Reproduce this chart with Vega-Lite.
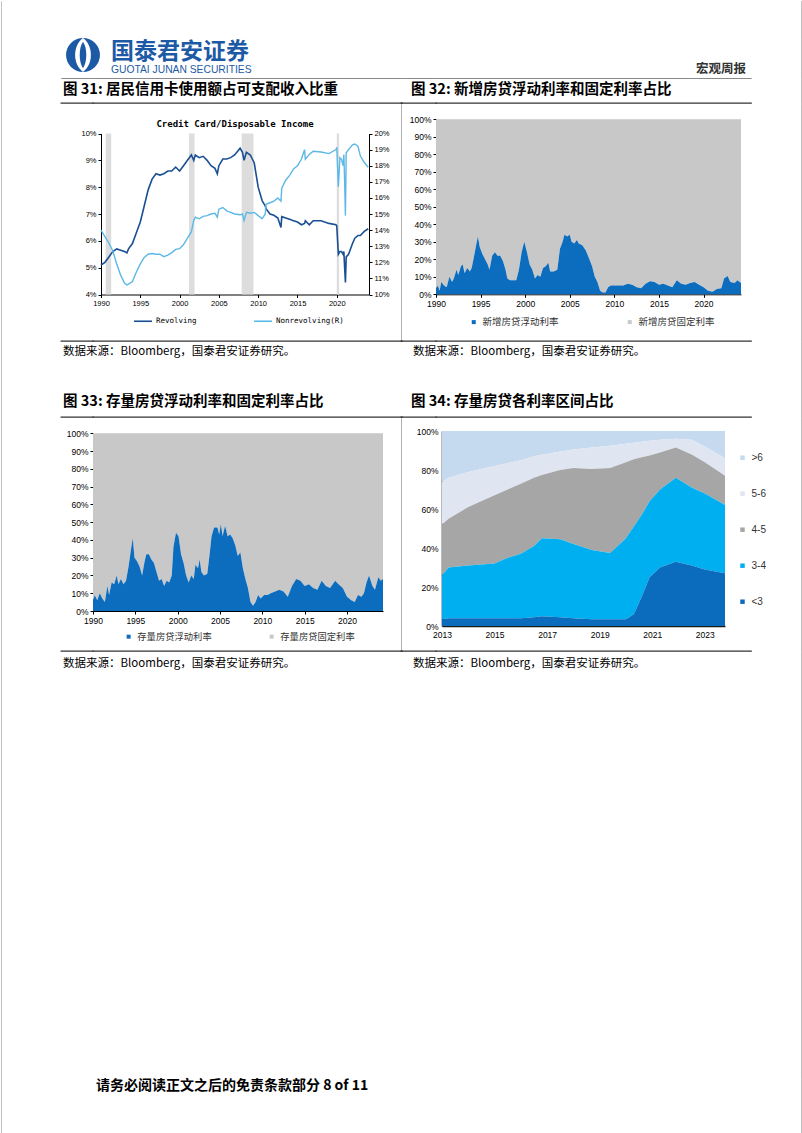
{
"$schema": "https://vega.github.io/schema/vega-lite/v6.json",
"padding": {"left": 0, "top": 0, "right": 0, "bottom": 0},
"background": "white",
"config": {
  "view": {"stroke": null},
  "font": "Liberation Sans",
  "axis": {"grid": false, "domainColor": "#000000", "tickColor": "#000000", "labelColor": "#000000", "labelFont": "Liberation Sans", "labelFontSize": 8.5, "tickSize": 3, "labelPadding": 2, "labelFlush": false, "labelOverlap": false},
  "legend": {"padding": 0},
  "title": {"font": "Noto Sans CJK SC", "color": "#000000"}
},
"datasets": {
  "e": [],
  "logo": [{"k": 1}],
  "rec": [{"s": 1990.6, "e": 1991.3}, {"s": 2001.2, "e": 2001.9}, {"s": 2007.9, "e": 2009.4}, {"s": 2020.0, "e": 2020.3}],
  "cc": [
    {"t":1990.0,"rev":5.10,"non":14.0},{"t":1990.5,"rev":5.20,"non":13.6},{"t":1991.0,"rev":5.40,"non":13.2},{"t":1991.5,"rev":5.60,"non":12.7},
    {"t":1992.0,"rev":5.70,"non":11.9},{"t":1992.5,"rev":5.65,"non":11.2},{"t":1993.0,"rev":5.60,"non":10.7},{"t":1993.3,"rev":5.55,"non":10.6},
    {"t":1993.5,"rev":5.70,"non":10.65},{"t":1994.0,"rev":5.90,"non":10.8},{"t":1994.5,"rev":6.30,"non":11.4},{"t":1995.0,"rev":6.70,"non":11.9},
    {"t":1995.5,"rev":7.30,"non":12.3},{"t":1996.0,"rev":7.90,"non":12.5},{"t":1996.5,"rev":8.30,"non":12.55},{"t":1997.0,"rev":8.50,"non":12.5},
    {"t":1997.5,"rev":8.45,"non":12.5},{"t":1998.0,"rev":8.50,"non":12.35},{"t":1998.5,"rev":8.60,"non":12.45},{"t":1999.0,"rev":8.60,"non":12.6},
    {"t":1999.5,"rev":8.75,"non":12.8},{"t":2000.0,"rev":8.60,"non":12.85},{"t":2000.5,"rev":8.80,"non":13.1},{"t":2001.0,"rev":9.00,"non":13.5},
    {"t":2001.5,"rev":9.20,"non":13.9},{"t":2001.8,"rev":9.00,"non":14.6},{"t":2002.0,"rev":9.20,"non":14.8},{"t":2002.5,"rev":9.10,"non":14.7},
    {"t":2003.0,"rev":9.15,"non":14.85},{"t":2003.5,"rev":9.00,"non":14.9},{"t":2004.0,"rev":8.80,"non":15.0},{"t":2004.5,"rev":8.70,"non":15.05},
    {"t":2004.8,"rev":8.50,"non":14.8},{"t":2005.0,"rev":8.80,"non":15.3},{"t":2005.5,"rev":9.05,"non":15.4},{"t":2006.0,"rev":9.05,"non":15.2},
    {"t":2006.5,"rev":9.10,"non":15.1},{"t":2007.0,"rev":9.20,"non":15.0},{"t":2007.7,"rev":9.45,"non":14.95},{"t":2008.0,"rev":9.30,"non":15.0},
    {"t":2008.2,"rev":9.00,"non":14.6},{"t":2008.5,"rev":9.30,"non":15.1},{"t":2009.0,"rev":9.20,"non":15.05},{"t":2009.5,"rev":8.90,"non":15.1},
    {"t":2010.0,"rev":8.00,"non":14.9},{"t":2010.5,"rev":7.50,"non":14.7},{"t":2010.9,"rev":7.30,"non":15.0},{"t":2011.0,"rev":7.20,"non":15.6},
    {"t":2011.5,"rev":7.00,"non":15.7},{"t":2012.0,"rev":6.95,"non":15.8},{"t":2012.5,"rev":6.85,"non":16.0},{"t":2012.9,"rev":6.50,"non":15.8},
    {"t":2013.0,"rev":6.90,"non":16.6},{"t":2013.5,"rev":6.85,"non":17.1},{"t":2014.0,"rev":6.80,"non":17.4},{"t":2014.5,"rev":6.75,"non":17.8},
    {"t":2015.0,"rev":6.70,"non":18.0},{"t":2015.5,"rev":6.60,"non":18.4},{"t":2015.9,"rev":6.65,"non":19.0},{"t":2016.0,"rev":6.75,"non":18.4},
    {"t":2016.5,"rev":6.60,"non":18.7},{"t":2017.0,"rev":6.75,"non":18.9},{"t":2018.0,"rev":6.75,"non":18.85},{"t":2019.0,"rev":6.65,"non":18.75},
    {"t":2019.9,"rev":6.60,"non":19.0},{"t":2020.0,"rev":6.55,"non":19.15},{"t":2020.2,"rev":5.50,"non":16.7},{"t":2020.4,"rev":5.60,"non":18.5},
    {"t":2020.6,"rev":5.60,"non":18.4},{"t":2020.8,"rev":5.50,"non":18.0},{"t":2020.9,"rev":5.60,"non":18.7},{"t":2021.0,"rev":5.00,"non":17.0},
    {"t":2021.1,"rev":4.45,"non":14.9},{"t":2021.2,"rev":5.40,"non":18.8},{"t":2021.5,"rev":5.50,"non":19.0},{"t":2022.0,"rev":5.90,"non":19.3},
    {"t":2022.3,"rev":6.10,"non":19.35},{"t":2022.7,"rev":6.20,"non":19.2},{"t":2023.0,"rev":6.20,"non":18.6},{"t":2023.5,"rev":6.35,"non":18.2},
    {"t":2024.0,"rev":6.45,"non":17.9}
  ],
  "nf": [
    {"t":1990.0,"f":3},{"t":1990.2,"f":5},{"t":1990.4,"f":2},{"t":1990.6,"f":7},{"t":1990.9,"f":5},{"t":1991.2,"f":4},{"t":1991.5,"f":10},{"t":1991.8,"f":7},
    {"t":1992.0,"f":9},{"t":1992.3,"f":14},{"t":1992.5,"f":11},{"t":1992.8,"f":16},{"t":1993.0,"f":17},{"t":1993.2,"f":12},{"t":1993.5,"f":15},{"t":1993.8,"f":13},
    {"t":1994.0,"f":15},{"t":1994.2,"f":20},{"t":1994.5,"f":28},{"t":1994.7,"f":33},{"t":1994.9,"f":27},{"t":1995.2,"f":23},{"t":1995.5,"f":20},{"t":1995.8,"f":17},
    {"t":1996.0,"f":14},{"t":1996.3,"f":22},{"t":1996.6,"f":24},{"t":1996.9,"f":22},{"t":1997.2,"f":22},{"t":1997.5,"f":19},{"t":1997.8,"f":14},{"t":1998.0,"f":9},
    {"t":1998.3,"f":8},{"t":1998.6,"f":8},{"t":1999.0,"f":8},{"t":1999.3,"f":14},{"t":1999.6,"f":24},{"t":1999.9,"f":30},{"t":2000.2,"f":24},{"t":2000.5,"f":17},
    {"t":2000.8,"f":14},{"t":2001.1,"f":9},{"t":2001.4,"f":11},{"t":2001.7,"f":10},{"t":2002.0,"f":15},{"t":2002.3,"f":16},{"t":2002.6,"f":18},{"t":2002.8,"f":13},
    {"t":2003.2,"f":13},{"t":2003.6,"f":14},{"t":2003.9,"f":26},{"t":2004.2,"f":30},{"t":2004.4,"f":34},{"t":2004.7,"f":33},{"t":2005.0,"f":34},{"t":2005.2,"f":30},
    {"t":2005.5,"f":29},{"t":2005.8,"f":31},{"t":2006.0,"f":29},{"t":2006.4,"f":28},{"t":2006.8,"f":25},{"t":2007.2,"f":20},{"t":2007.5,"f":16},{"t":2007.8,"f":10},
    {"t":2008.1,"f":7},{"t":2008.4,"f":2},{"t":2008.7,"f":1},{"t":2009.0,"f":1},{"t":2009.3,"f":4},{"t":2009.6,"f":5},{"t":2010.0,"f":5},{"t":2010.5,"f":5},
    {"t":2011.0,"f":5},{"t":2011.5,"f":6},{"t":2012.0,"f":5.5},{"t":2012.5,"f":4},{"t":2013.0,"f":3.5},{"t":2013.5,"f":6},{"t":2014.0,"f":7.5},{"t":2014.5,"f":7},
    {"t":2015.0,"f":5.5},{"t":2015.5,"f":6},{"t":2016.0,"f":5},{"t":2016.5,"f":4},{"t":2017.0,"f":8},{"t":2017.5,"f":6},{"t":2018.0,"f":5.5},{"t":2018.5,"f":6.5},
    {"t":2019.0,"f":7},{"t":2019.5,"f":5.5},{"t":2020.0,"f":4},{"t":2020.5,"f":2},{"t":2021.0,"f":1.5},{"t":2021.5,"f":3},{"t":2022.0,"f":3.5},{"t":2022.3,"f":9},
    {"t":2022.7,"f":10.5},{"t":2023.0,"f":7},{"t":2023.5,"f":6.5},{"t":2023.8,"f":8},{"t":2024.2,"f":6.5}
  ],
  "sf": [
    {"t":1990.0,"f":5},{"t":1990.2,"f":9},{"t":1990.5,"f":6},{"t":1990.8,"f":10},{"t":1991.1,"f":7},{"t":1991.4,"f":5},{"t":1991.7,"f":14},{"t":1991.9,"f":9},
    {"t":1992.2,"f":16},{"t":1992.5,"f":15},{"t":1992.8,"f":20},{"t":1993.0,"f":15},{"t":1993.3,"f":18},{"t":1993.6,"f":15},{"t":1993.9,"f":17},{"t":1994.2,"f":25},
    {"t":1994.5,"f":35},{"t":1994.7,"f":41},{"t":1994.9,"f":30},{"t":1995.2,"f":28},{"t":1995.5,"f":25},{"t":1995.8,"f":20},{"t":1996.1,"f":28},{"t":1996.3,"f":32},
    {"t":1996.6,"f":32},{"t":1996.9,"f":29},{"t":1997.2,"f":27},{"t":1997.5,"f":22},{"t":1997.8,"f":17},{"t":1998.1,"f":18},{"t":1998.4,"f":14},{"t":1998.7,"f":17},
    {"t":1999.0,"f":16},{"t":1999.3,"f":20},{"t":1999.5,"f":36},{"t":1999.8,"f":44},{"t":2000.1,"f":42},{"t":2000.4,"f":32},{"t":2000.7,"f":27},{"t":2001.0,"f":20},
    {"t":2001.3,"f":16},{"t":2001.6,"f":20},{"t":2001.9,"f":18},{"t":2002.1,"f":26},{"t":2002.4,"f":24},{"t":2002.6,"f":29},{"t":2002.8,"f":22},{"t":2003.1,"f":20},
    {"t":2003.5,"f":21},{"t":2003.8,"f":33},{"t":2004.0,"f":42},{"t":2004.3,"f":47},{"t":2004.7,"f":47},{"t":2004.9,"f":43},{"t":2005.1,"f":49},{"t":2005.3,"f":42},
    {"t":2005.6,"f":48},{"t":2005.9,"f":42},{"t":2006.2,"f":43},{"t":2006.5,"f":41},{"t":2006.8,"f":37},{"t":2007.1,"f":31},{"t":2007.4,"f":33},{"t":2007.7,"f":24},
    {"t":2008.0,"f":18},{"t":2008.3,"f":13},{"t":2008.6,"f":5},{"t":2008.9,"f":3},{"t":2009.2,"f":5},{"t":2009.5,"f":9},{"t":2009.8,"f":7},{"t":2010.2,"f":9},
    {"t":2010.6,"f":9},{"t":2011.0,"f":10},{"t":2011.5,"f":11},{"t":2012.0,"f":12},{"t":2012.5,"f":11},{"t":2013.0,"f":8},{"t":2013.5,"f":14},{"t":2014.0,"f":18},
    {"t":2014.5,"f":17},{"t":2015.0,"f":14},{"t":2015.5,"f":15},{"t":2016.0,"f":13},{"t":2016.5,"f":12},{"t":2017.0,"f":17},{"t":2017.5,"f":14},{"t":2018.0,"f":13},
    {"t":2018.6,"f":17},{"t":2019.0,"f":15},{"t":2019.5,"f":13},{"t":2020.0,"f":8},{"t":2020.5,"f":6},{"t":2020.9,"f":5},{"t":2021.3,"f":9},{"t":2021.7,"f":8},
    {"t":2022.0,"f":10},{"t":2022.3,"f":16},{"t":2022.6,"f":20},{"t":2023.0,"f":14},{"t":2023.3,"f":12},{"t":2023.7,"f":19},{"t":2024.0,"f":17},{"t":2024.25,"f":18}
  ],
  "rb": [
    {"t":2013.0,"a":3.5,"b":26,"c":52,"d":74},{"t":2013.25,"a":4,"b":30,"c":55,"d":76},{"t":2014.0,"a":4,"b":31,"c":61,"d":79},
    {"t":2015.0,"a":4,"b":32,"c":67,"d":82},{"t":2015.5,"a":4,"b":35,"c":70,"d":83.5},{"t":2016.0,"a":4,"b":37,"c":73,"d":85},
    {"t":2016.5,"a":4.5,"b":41,"c":76,"d":87},{"t":2016.8,"a":5,"b":45,"c":77.5,"d":87.8},{"t":2017.5,"a":4.5,"b":44.5,"c":80,"d":89.5},
    {"t":2018.0,"a":4,"b":42,"c":81,"d":90.5},{"t":2018.7,"a":3.5,"b":39,"c":80.5,"d":91.5},{"t":2019.4,"a":3.5,"b":37.5,"c":81,"d":92.5},
    {"t":2020.0,"a":3.5,"b":45,"c":84,"d":93.5},{"t":2020.3,"a":6,"b":51,"c":85.5,"d":94},{"t":2020.6,"a":15,"b":57,"c":86.5,"d":94.5},
    {"t":2020.9,"a":25,"b":64,"c":87.5,"d":95},{"t":2021.3,"a":30,"b":70,"c":89,"d":95.5},{"t":2021.9,"a":33,"b":76,"c":91.5,"d":96},
    {"t":2022.5,"a":31,"b":71,"c":88,"d":95.5},{"t":2023.0,"a":29,"b":68,"c":84,"d":92},{"t":2023.77,"a":27,"b":62,"c":77,"d":86}
  ]
},
"columns": 9,
"spacing": 0,
"align": "none",
"bounds": "flush",
"resolve": {"scale": {"x": "independent", "y": "independent", "color": "independent"}, "axis": {"x": "independent", "y": "independent"}, "legend": {"color": "independent"}},
"concat": [
  {"data":{"name":"e"},"mark":"point","width":0.001,"height":38,"view":{"stroke":"#c0c0c0","strokeWidth":1}},
  {"data":{"name":"e"},"mark":"point","width":59,"height":0.001},
  {"data":{"name":"e"},"mark":"point","width":32,"height":38},
  {"data":{"name":"e"},"mark":"point","width":0.001,"height":0.001},
  {"data":{"name":"e"},"mark":"point","width":0.001,"height":0.001},
  {"data":{"name":"e"},"mark":"point","width":0.001,"height":0.001},
  {"data":{"name":"e"},"mark":"point","width":0.001,"height":0.001},
  {"data":{"name":"e"},"mark":"point","width":50,"height":0.001},
  {"data":{"name":"e"},"mark":"point","width":0.001,"height":38,"view":{"stroke":"#c0c0c0","strokeWidth":1}},

  {"data":{"name":"e"},"mark":"point","width":0.001,"height":32,"view":{"stroke":"#c0c0c0","strokeWidth":1}},
  {"data":{"name":"e"},"mark":"point","width":0.001,"height":0.001},
  {"data":{"name":"logo"},"width":32,"height":32,
   "encoding":{"x":{"datum":22,"type":"quantitative","scale":{"domain":[0,32],"nice":false,"zero":false},"axis":null}},
   "layer":[
    {"mark":{"type":"point","shape":"circle","size":1150,"filled":true,"color":"#1d5aa6","opacity":1,"strokeWidth":0},"encoding":{}},
    {"mark":{"type":"point","shape":"M0,-1C0.62,-0.55,0.62,0.55,0,1C-0.62,0.55,-0.62,-0.55,0,-1Z","size":1150,"filled":true,"color":"#ffffff","opacity":1,"strokeWidth":0},"encoding":{}},
    {"mark":{"type":"point","shape":"M0,-0.78C0.26,-0.42,0.26,0.42,0,0.78C-0.26,0.42,-0.26,-0.42,0,-0.78Z","size":1150,"filled":true,"color":"#1d5aa6","opacity":1,"strokeWidth":0},"encoding":{}}
  ]},
  {"data":{"name":"e"},"mark":"point","width":200,"height":0.001,"title":{"text":"国泰君安证券","subtitle":"GUOTAI JUNAN SECURITIES","orient":"bottom","anchor":"start","frame":"group","dx":18,"offset":2,"font":"Noto Sans CJK SC","fontSize":23,"fontWeight":"bold","color":"#1d5aa6","subtitleFont":"Liberation Sans","subtitleFontSize":10.3,"subtitleColor":"#1d5aa6","subtitlePadding":1}},
  {"data":{"name":"e"},"mark":"point","width":0.001,"height":0.001},
  {"data":{"name":"e"},"mark":"point","width":0.001,"height":0.001},
  {"data":{"name":"e"},"mark":"point","width":0.001,"height":0.001},
  {"data":{"name":"e"},"mark":"point","width":0.001,"height":0.001},
  {"data":{"name":"e"},"mark":"point","width":0.001,"height":32,"view":{"stroke":"#c0c0c0","strokeWidth":1}},

  {"data":{"name":"e"},"mark":"point","width":0.001,"height":7,"view":{"stroke":"#c0c0c0","strokeWidth":1}},
  {"data":{"name":"e"},"mark":"point","width":0.001,"height":0.001},
  {"data":{"name":"e"},"mark":"point","width":0.001,"height":7},
  {"data":{"name":"e"},"mark":"point","width":0.001,"height":0.001},
  {"data":{"name":"e"},"mark":"point","width":0.001,"height":0.001},
  {"data":{"name":"e"},"mark":"point","width":0.001,"height":0.001},
  {"data":{"name":"e"},"mark":"point","width":0.001,"height":0.001},
  {"data":{"name":"e"},"mark":"point","width":0.001,"height":0.001},
  {"data":{"name":"e"},"mark":"point","width":0.001,"height":7,"view":{"stroke":"#c0c0c0","strokeWidth":1}},

  {"data":{"name":"e"},"mark":"point","width":0.001,"height":1,"view":{"stroke":"#c0c0c0","strokeWidth":1}},
  {"data":{"name":"e"},"mark":"point","width":0.001,"height":0.001},
  {"data":{"name":"e"},"mark":"point","width":32,"height":0.001,"view":{"stroke":"#8a8a8a","strokeWidth":1}},
  {"data":{"name":"e"},"mark":"point","width":308,"height":0.001,"view":{"stroke":"#8a8a8a","strokeWidth":1}},
  {"data":{"name":"e"},"mark":"point","width":1,"height":0.001,"view":{"stroke":"#8a8a8a","strokeWidth":1}},
  {"data":{"name":"e"},"mark":"point","width":34,"height":0.001,"view":{"stroke":"#8a8a8a","strokeWidth":1}},
  {"data":{"name":"e"},"mark":"point","width":315,"height":0.001,"view":{"stroke":"#8a8a8a","strokeWidth":1},"title":{"text":"宏观周报","orient":"top","anchor":"end","frame":"group","dx":-5,"offset":3,"font":"Noto Sans CJK SC","fontSize":12.5,"fontWeight":"bold","color":"#333333"}},
  {"data":{"name":"e"},"mark":"point","width":0.001,"height":0.001},
  {"data":{"name":"e"},"mark":"point","width":0.001,"height":1,"view":{"stroke":"#c0c0c0","strokeWidth":1}},

  {"data":{"name":"e"},"mark":"point","width":0.001,"height":24,"view":{"stroke":"#c0c0c0","strokeWidth":1}},
  {"data":{"name":"e"},"mark":"point","width":0.001,"height":0.001},
  {"data":{"name":"e"},"mark":"point","width":0.001,"height":24},
  {"data":{"name":"e"},"mark":"point","width":0.001,"height":0.001},
  {"data":{"name":"e"},"mark":"point","width":0.001,"height":0.001},
  {"data":{"name":"e"},"mark":"point","width":0.001,"height":0.001},
  {"data":{"name":"e"},"mark":"point","width":0.001,"height":0.001},
  {"data":{"name":"e"},"mark":"point","width":0.001,"height":0.001},
  {"data":{"name":"e"},"mark":"point","width":0.001,"height":24,"view":{"stroke":"#c0c0c0","strokeWidth":1}},

  {"data":{"name":"e"},"mark":"point","width":0.001,"height":1,"view":{"stroke":"#c0c0c0","strokeWidth":1}},
  {"data":{"name":"e"},"mark":"point","width":0.001,"height":0.001},
  {"data":{"name":"e"},"mark":"point","width":32,"height":0.001,"view":{"stroke":"#333333","strokeWidth":1.3},"title":{"text":"图 31: 居民信用卡使用额占可支配收入比重","orient":"top","anchor":"start","frame":"group","dx":2,"offset":6,"font":"Noto Sans CJK SC","fontSize":14.5,"fontWeight":"bold","color":"#000000"}},
  {"data":{"name":"e"},"mark":"point","width":308,"height":0.001,"view":{"stroke":"#333333","strokeWidth":1.3}},
  {"data":{"name":"e"},"mark":"point","width":1,"height":0.001,"view":{"stroke":"#333333","strokeWidth":1.3}},
  {"data":{"name":"e"},"mark":"point","width":34,"height":0.001,"view":{"stroke":"#333333","strokeWidth":1.3},"title":{"text":"图 32: 新增房贷浮动利率和固定利率占比","orient":"top","anchor":"start","frame":"group","dx":9,"offset":6,"font":"Noto Sans CJK SC","fontSize":14.5,"fontWeight":"bold","color":"#000000"}},
  {"data":{"name":"e"},"mark":"point","width":315,"height":0.001,"view":{"stroke":"#333333","strokeWidth":1.3}},
  {"data":{"name":"e"},"mark":"point","width":0.001,"height":0.001},
  {"data":{"name":"e"},"mark":"point","width":0.001,"height":1,"view":{"stroke":"#c0c0c0","strokeWidth":1}},

  {"data":{"name":"e"},"mark":"point","width":0.001,"height":237,"view":{"stroke":"#c0c0c0","strokeWidth":1}},
  {"data":{"name":"e"},"mark":"point","width":0.001,"height":0.001},
  {"data":{"name":"e"},"mark":"point","width":0.001,"height":0.001},
  {
    "width": 276, "height": 190.5,
    "title": {"text":"Credit Card/Disposable Income","orient":"top","anchor":"middle","frame":"group","offset":-25,"dx":4,"font":"DejaVu Sans Mono","fontSize":9,"fontWeight":"bold","color":"#000000"},
    "layer": [
      {"data":{"name":"rec"},"mark":{"type":"rect","color":"#dddddd"},"encoding":{
        "x":{"field":"s","type":"quantitative","title":null,"scale":{"domain":[1990,2024.1],"range":[8,276],"nice":false,"zero":false},"axis":{"values":[1990,1995,2000,2005,2010,2015,2020],"format":"d","labelFontSize":7.5,"tickSize":3,"labelOverlap":false}},
        "x2":{"field":"e"},
        "y":{"datum":10,"type":"quantitative","scale":{"domain":[4,10],"range":[190.5,29.5],"nice":false,"zero":false},"axis":null},
        "y2":{"datum":4}}},
      {"data":{"name":"cc"},"mark":{"type":"line","strokeWidth":1.6},"encoding":{
        "x":{"field":"t","type":"quantitative","title":null,"axis":{"values":[1990,1995,2000,2005,2010,2015,2020],"format":"d","labelFontSize":7.5,"tickSize":3,"labelOverlap":false}},
        "y":{"field":"rev","type":"quantitative","title":null,"scale":{"domain":[4,10],"range":[190.5,29.5],"nice":false,"zero":false},"axis":{"orient":"left","offset":-8,"values":[4,5,6,7,8,9,10],"labelExpr":"datum.value + '%'","labelFontSize":7.5,"tickSize":3,"labelOverlap":false}},
        "color":{"datum":"Revolving","type":"nominal","scale":{"domain":["Revolving","Nonrevolving(R)"],"range":["#1b4f93","#5cb8e6"]},
          "legend":{"title":null,"orient":"none","legendX":40,"legendY":207,"direction":"horizontal","symbolType":"stroke","symbolSize":324,"symbolStrokeWidth":1.6,"labelFont":"DejaVu Sans Mono","labelFontSize":7.5,"labelColor":"#000000","labelOffset":3,"columnPadding":53,"padding":0}}}},
      {"data":{"name":"cc"},"mark":{"type":"line","strokeWidth":1.4},"encoding":{
        "x":{"field":"t","type":"quantitative","title":null,"axis":{"values":[1990,1995,2000,2005,2010,2015,2020],"format":"d","labelFontSize":7.5,"tickSize":3,"labelOverlap":false}},
        "y":{"field":"non","type":"quantitative","title":null,"scale":{"domain":[10,20],"range":[190.5,29.5],"nice":false,"zero":false},"axis":{"orient":"right","values":[10,11,12,13,14,15,16,17,18,19,20],"labelExpr":"datum.value + '%'","labelFontSize":7.5,"tickSize":3,"labelOverlap":false}},
        "color":{"datum":"Nonrevolving(R)","type":"nominal"}}}
    ],
    "resolve": {"scale": {"y": "independent"}}
  },
  {"data":{"name":"e"},"mark":"point","width":0.001,"height":237,"view":{"stroke":"#b0b0b0","strokeWidth":1}},
  {"data":{"name":"e"},"mark":"point","width":0.001,"height":0.001},
  {
    "width": 305, "height": 190.3,
    "data": {"name": "nf"},
    "encoding": {"x":{"field":"t","type":"quantitative","title":null,"scale":{"domain":[1990,2024.2],"nice":false,"zero":false},"axis":{"values":[1990,1995,2000,2005,2010,2015,2020],"format":"d","labelFontSize":8.5,"tickSize":3,"labelOverlap":false}}},
    "layer": [
      {"mark":{"type":"area","opacity":1},"encoding":{
        "y":{"field":"f","type":"quantitative","title":null,"scale":{"domain":[0,100],"range":[190.3,15.3],"nice":false},"axis":{"values":[0,10,20,30,40,50,60,70,80,90,100],"labelExpr":"datum.value + '%'","labelFontSize":8.5,"tickSize":3,"labelOverlap":false}},
        "y2":{"datum":100},
        "color":{"datum":"新增房贷固定利率","type":"nominal","scale":{"domain":["新增房贷浮动利率","新增房贷固定利率"],"range":["#0c6cbd","#c8c8c8"]},
          "legend":{"title":null,"orient":"none","legendX":33,"legendY":213,"direction":"horizontal","symbolType":"square","symbolSize":16,"labelFont":"Noto Sans CJK SC","labelFontSize":9.5,"labelColor":"#333333","labelOffset":4,"columnPadding":66,"padding":0}}}},
      {"mark":{"type":"area","opacity":1},"encoding":{
        "y":{"field":"f","type":"quantitative","title":null,"stack":null,"axis":{"values":[0,10,20,30,40,50,60,70,80,90,100],"labelExpr":"datum.value + '%'","labelFontSize":8.5,"tickSize":3,"labelOverlap":false}},
        "color":{"datum":"新增房贷浮动利率","type":"nominal"}}}
    ]
  },
  {"data":{"name":"e"},"mark":"point","width":0.001,"height":0.001},
  {"data":{"name":"e"},"mark":"point","width":0.001,"height":237,"view":{"stroke":"#c0c0c0","strokeWidth":1}},

  {"data":{"name":"e"},"mark":"point","width":0.001,"height":1,"view":{"stroke":"#c0c0c0","strokeWidth":1}},
  {"data":{"name":"e"},"mark":"point","width":0.001,"height":0.001},
  {"data":{"name":"e"},"mark":"point","width":32,"height":0.001,"view":{"stroke":"#333333","strokeWidth":1.3},"title":{"text":"数据来源：Bloomberg，国泰君安证券研究。","orient":"bottom","anchor":"start","frame":"group","dx":2,"offset":5,"font":"Noto Sans CJK SC","fontSize":11.5,"fontWeight":"normal","color":"#000000"}},
  {"data":{"name":"e"},"mark":"point","width":308,"height":0.001,"view":{"stroke":"#333333","strokeWidth":1.3}},
  {"data":{"name":"e"},"mark":"point","width":1,"height":0.001,"view":{"stroke":"#333333","strokeWidth":1.3}},
  {"data":{"name":"e"},"mark":"point","width":34,"height":0.001,"view":{"stroke":"#333333","strokeWidth":1.3},"title":{"text":"数据来源：Bloomberg，国泰君安证券研究。","orient":"bottom","anchor":"start","frame":"group","dx":11,"offset":5,"font":"Noto Sans CJK SC","fontSize":11.5,"fontWeight":"normal","color":"#000000"}},
  {"data":{"name":"e"},"mark":"point","width":315,"height":0.001,"view":{"stroke":"#333333","strokeWidth":1.3}},
  {"data":{"name":"e"},"mark":"point","width":0.001,"height":0.001},
  {"data":{"name":"e"},"mark":"point","width":0.001,"height":1,"view":{"stroke":"#c0c0c0","strokeWidth":1}},

  {"data":{"name":"e"},"mark":"point","width":0.001,"height":75,"view":{"stroke":"#c0c0c0","strokeWidth":1}},
  {"data":{"name":"e"},"mark":"point","width":0.001,"height":0.001},
  {"data":{"name":"e"},"mark":"point","width":0.001,"height":75},
  {"data":{"name":"e"},"mark":"point","width":0.001,"height":0.001},
  {"data":{"name":"e"},"mark":"point","width":0.001,"height":0.001},
  {"data":{"name":"e"},"mark":"point","width":0.001,"height":0.001},
  {"data":{"name":"e"},"mark":"point","width":0.001,"height":0.001},
  {"data":{"name":"e"},"mark":"point","width":0.001,"height":0.001},
  {"data":{"name":"e"},"mark":"point","width":0.001,"height":75,"view":{"stroke":"#c0c0c0","strokeWidth":1}},

  {"data":{"name":"e"},"mark":"point","width":0.001,"height":1,"view":{"stroke":"#c0c0c0","strokeWidth":1}},
  {"data":{"name":"e"},"mark":"point","width":0.001,"height":0.001},
  {"data":{"name":"e"},"mark":"point","width":32,"height":0.001,"view":{"stroke":"#333333","strokeWidth":1.3},"title":{"text":"图 33: 存量房贷浮动利率和固定利率占比","orient":"top","anchor":"start","frame":"group","dx":2,"offset":8,"font":"Noto Sans CJK SC","fontSize":14.5,"fontWeight":"bold","color":"#000000"}},
  {"data":{"name":"e"},"mark":"point","width":308,"height":0.001,"view":{"stroke":"#333333","strokeWidth":1.3}},
  {"data":{"name":"e"},"mark":"point","width":1,"height":0.001,"view":{"stroke":"#333333","strokeWidth":1.3}},
  {"data":{"name":"e"},"mark":"point","width":34,"height":0.001,"view":{"stroke":"#333333","strokeWidth":1.3},"title":{"text":"图 34: 存量房贷各利率区间占比","orient":"top","anchor":"start","frame":"group","dx":9,"offset":8,"font":"Noto Sans CJK SC","fontSize":14.5,"fontWeight":"bold","color":"#000000"}},
  {"data":{"name":"e"},"mark":"point","width":315,"height":0.001,"view":{"stroke":"#333333","strokeWidth":1.3}},
  {"data":{"name":"e"},"mark":"point","width":0.001,"height":0.001},
  {"data":{"name":"e"},"mark":"point","width":0.001,"height":1,"view":{"stroke":"#c0c0c0","strokeWidth":1}},

  {"data":{"name":"e"},"mark":"point","width":0.001,"height":233,"view":{"stroke":"#c0c0c0","strokeWidth":1}},
  {"data":{"name":"e"},"mark":"point","width":0.001,"height":0.001},
  {"data":{"name":"e"},"mark":"point","width":0.001,"height":0.001},
  {
    "width": 290, "height": 193,
    "data": {"name": "sf"},
    "encoding": {"x":{"field":"t","type":"quantitative","title":null,"scale":{"domain":[1990,2024.25],"nice":false,"zero":false},"axis":{"values":[1990,1995,2000,2005,2010,2015,2020],"format":"d","labelFontSize":8.5,"tickSize":3,"labelOverlap":false}}},
    "layer": [
      {"mark":{"type":"area","opacity":1},"encoding":{
        "y":{"field":"f","type":"quantitative","title":null,"scale":{"domain":[0,100],"range":[193,15.3],"nice":false},"axis":{"values":[0,10,20,30,40,50,60,70,80,90,100],"labelExpr":"datum.value + '%'","labelFontSize":8.5,"tickSize":3,"labelOverlap":false}},
        "y2":{"datum":100},
        "color":{"datum":"存量房贷固定利率","type":"nominal","scale":{"domain":["存量房贷浮动利率","存量房贷固定利率"],"range":["#0c6cbd","#c8c8c8"]},
          "legend":{"title":null,"orient":"none","legendX":31,"legendY":214,"direction":"horizontal","symbolType":"square","symbolSize":16,"labelFont":"Noto Sans CJK SC","labelFontSize":9.3,"labelColor":"#333333","labelOffset":4,"columnPadding":55,"padding":0}}}},
      {"mark":{"type":"area","opacity":1},"encoding":{
        "y":{"field":"f","type":"quantitative","title":null,"stack":null,"axis":{"values":[0,10,20,30,40,50,60,70,80,90,100],"labelExpr":"datum.value + '%'","labelFontSize":8.5,"tickSize":3,"labelOverlap":false}},
        "color":{"datum":"存量房贷浮动利率","type":"nominal"}}}
    ]
  },
  {"data":{"name":"e"},"mark":"point","width":0.001,"height":233,"view":{"stroke":"#b0b0b0","strokeWidth":1}},
  {"data":{"name":"e"},"mark":"point","width":0.001,"height":0.001},
  {
    "width": 289, "height": 208,
    "data": {"name": "rb"},
    "encoding": {"x":{"field":"t","type":"quantitative","title":null,"scale":{"domain":[2013,2023.77],"range":[6,289],"nice":false,"zero":false},"axis":{"values":[2013,2015,2017,2019,2021,2023],"format":"d","labelFontSize":8.5,"ticks":false,"labelPadding":4,"domainWidth":1.6,"domainColor":"#1a1a1a","labelOverlap":false}}},
    "layer": [
      {"mark":{"type":"area","opacity":1},"encoding":{
        "y":{"field":"d","type":"quantitative","title":null,"scale":{"domain":[0,100],"range":[208,13],"nice":false},"axis":{"offset":-6,"values":[0,10,20,30,40,50,60,70,80,90,100],"labelExpr":"datum.value + '%'","labelFontSize":8.5,"ticks":false,"labelPadding":4,"domainWidth":1.6,"domainColor":"#1a1a1a","labelOverlap":false}},
        "y2":{"datum":100},
        "color":{"datum":">6","type":"nominal","scale":{"domain":[">6","5-6","4-5","3-4","<3"],"range":["#c5d9ef","#dfe5f1","#a6a6a6","#00aff0","#0b6cbd"]},
          "legend":{"title":null,"orient":"none","legendX":301.5,"legendY":34.7,"direction":"vertical","symbolType":"square","symbolSize":20,"labelFont":"Liberation Sans","labelFontSize":10,"labelColor":"#333333","labelOffset":4,"rowPadding":26,"padding":0}}}},
      {"mark":{"type":"area","opacity":1},"encoding":{
        "y":{"field":"c","type":"quantitative","title":null},
        "y2":{"field":"d"},
        "color":{"datum":"5-6","type":"nominal"}}},
      {"mark":{"type":"area","opacity":1},"encoding":{
        "y":{"field":"b","type":"quantitative","title":null},
        "y2":{"field":"c"},
        "color":{"datum":"4-5","type":"nominal"}}},
      {"mark":{"type":"area","opacity":1},"encoding":{
        "y":{"field":"a","type":"quantitative","title":null},
        "y2":{"field":"b"},
        "color":{"datum":"3-4","type":"nominal"}}},
      {"mark":{"type":"area","opacity":1},"encoding":{
        "y":{"field":"a","type":"quantitative","title":null,"stack":null},
        "color":{"datum":"<3","type":"nominal"}}}
    ]
  },
  {"data":{"name":"e"},"mark":"point","width":0.001,"height":0.001},
  {"data":{"name":"e"},"mark":"point","width":0.001,"height":233,"view":{"stroke":"#c0c0c0","strokeWidth":1}},

  {"data":{"name":"e"},"mark":"point","width":0.001,"height":1,"view":{"stroke":"#c0c0c0","strokeWidth":1}},
  {"data":{"name":"e"},"mark":"point","width":0.001,"height":0.001},
  {"data":{"name":"e"},"mark":"point","width":32,"height":0.001,"view":{"stroke":"#333333","strokeWidth":1.3},"title":{"text":"数据来源：Bloomberg，国泰君安证券研究。","orient":"bottom","anchor":"start","frame":"group","dx":2,"offset":7,"font":"Noto Sans CJK SC","fontSize":11.5,"fontWeight":"normal","color":"#000000"}},
  {"data":{"name":"e"},"mark":"point","width":308,"height":0.001,"view":{"stroke":"#333333","strokeWidth":1.3}},
  {"data":{"name":"e"},"mark":"point","width":1,"height":0.001,"view":{"stroke":"#333333","strokeWidth":1.3}},
  {"data":{"name":"e"},"mark":"point","width":34,"height":0.001,"view":{"stroke":"#333333","strokeWidth":1.3},"title":{"text":"数据来源：Bloomberg，国泰君安证券研究。","orient":"bottom","anchor":"start","frame":"group","dx":11,"offset":7,"font":"Noto Sans CJK SC","fontSize":11.5,"fontWeight":"normal","color":"#000000"}},
  {"data":{"name":"e"},"mark":"point","width":315,"height":0.001,"view":{"stroke":"#333333","strokeWidth":1.3}},
  {"data":{"name":"e"},"mark":"point","width":0.001,"height":0.001},
  {"data":{"name":"e"},"mark":"point","width":0.001,"height":1,"view":{"stroke":"#c0c0c0","strokeWidth":1}},

  {"data":{"name":"e"},"mark":"point","width":0.001,"height":426,"view":{"stroke":"#c0c0c0","strokeWidth":1}},
  {"data":{"name":"e"},"mark":"point","width":0.001,"height":0.001},
  {"data":{"name":"e"},"mark":"point","width":0.001,"height":426},
  {"data":{"name":"e"},"mark":"point","width":0.001,"height":0.001},
  {"data":{"name":"e"},"mark":"point","width":0.001,"height":0.001},
  {"data":{"name":"e"},"mark":"point","width":0.001,"height":0.001},
  {"data":{"name":"e"},"mark":"point","width":0.001,"height":0.001},
  {"data":{"name":"e"},"mark":"point","width":0.001,"height":0.001},
  {"data":{"name":"e"},"mark":"point","width":0.001,"height":426,"view":{"stroke":"#c0c0c0","strokeWidth":1}},

  {"data":{"name":"e"},"mark":"point","width":0.001,"height":1,"view":{"stroke":"#c0c0c0","strokeWidth":1}},
  {"data":{"name":"e"},"mark":"point","width":0.001,"height":0.001},
  {"data":{"name":"e"},"mark":"point","width":0.001,"height":0.001,"title":{"text":"请务必阅读正文之后的免责条款部分 8 of 11","orient":"bottom","anchor":"start","frame":"group","dx":35,"offset":1,"font":"Noto Sans CJK SC","fontSize":14,"fontWeight":"bold","color":"#000000"}},
  {"data":{"name":"e"},"mark":"point","width":0.001,"height":0.001},
  {"data":{"name":"e"},"mark":"point","width":0.001,"height":0.001},
  {"data":{"name":"e"},"mark":"point","width":0.001,"height":0.001},
  {"data":{"name":"e"},"mark":"point","width":0.001,"height":0.001},
  {"data":{"name":"e"},"mark":"point","width":0.001,"height":0.001},
  {"data":{"name":"e"},"mark":"point","width":0.001,"height":1,"view":{"stroke":"#c0c0c0","strokeWidth":1}},

  {"data":{"name":"e"},"mark":"point","width":0.001,"height":55,"view":{"stroke":"#c0c0c0","strokeWidth":1}},
  {"data":{"name":"e"},"mark":"point","width":0.001,"height":0.001},
  {"data":{"name":"e"},"mark":"point","width":0.001,"height":55},
  {"data":{"name":"e"},"mark":"point","width":0.001,"height":0.001},
  {"data":{"name":"e"},"mark":"point","width":0.001,"height":0.001},
  {"data":{"name":"e"},"mark":"point","width":0.001,"height":0.001},
  {"data":{"name":"e"},"mark":"point","width":0.001,"height":0.001},
  {"data":{"name":"e"},"mark":"point","width":0.001,"height":0.001},
  {"data":{"name":"e"},"mark":"point","width":0.001,"height":55,"view":{"stroke":"#c0c0c0","strokeWidth":1}}
]
}
